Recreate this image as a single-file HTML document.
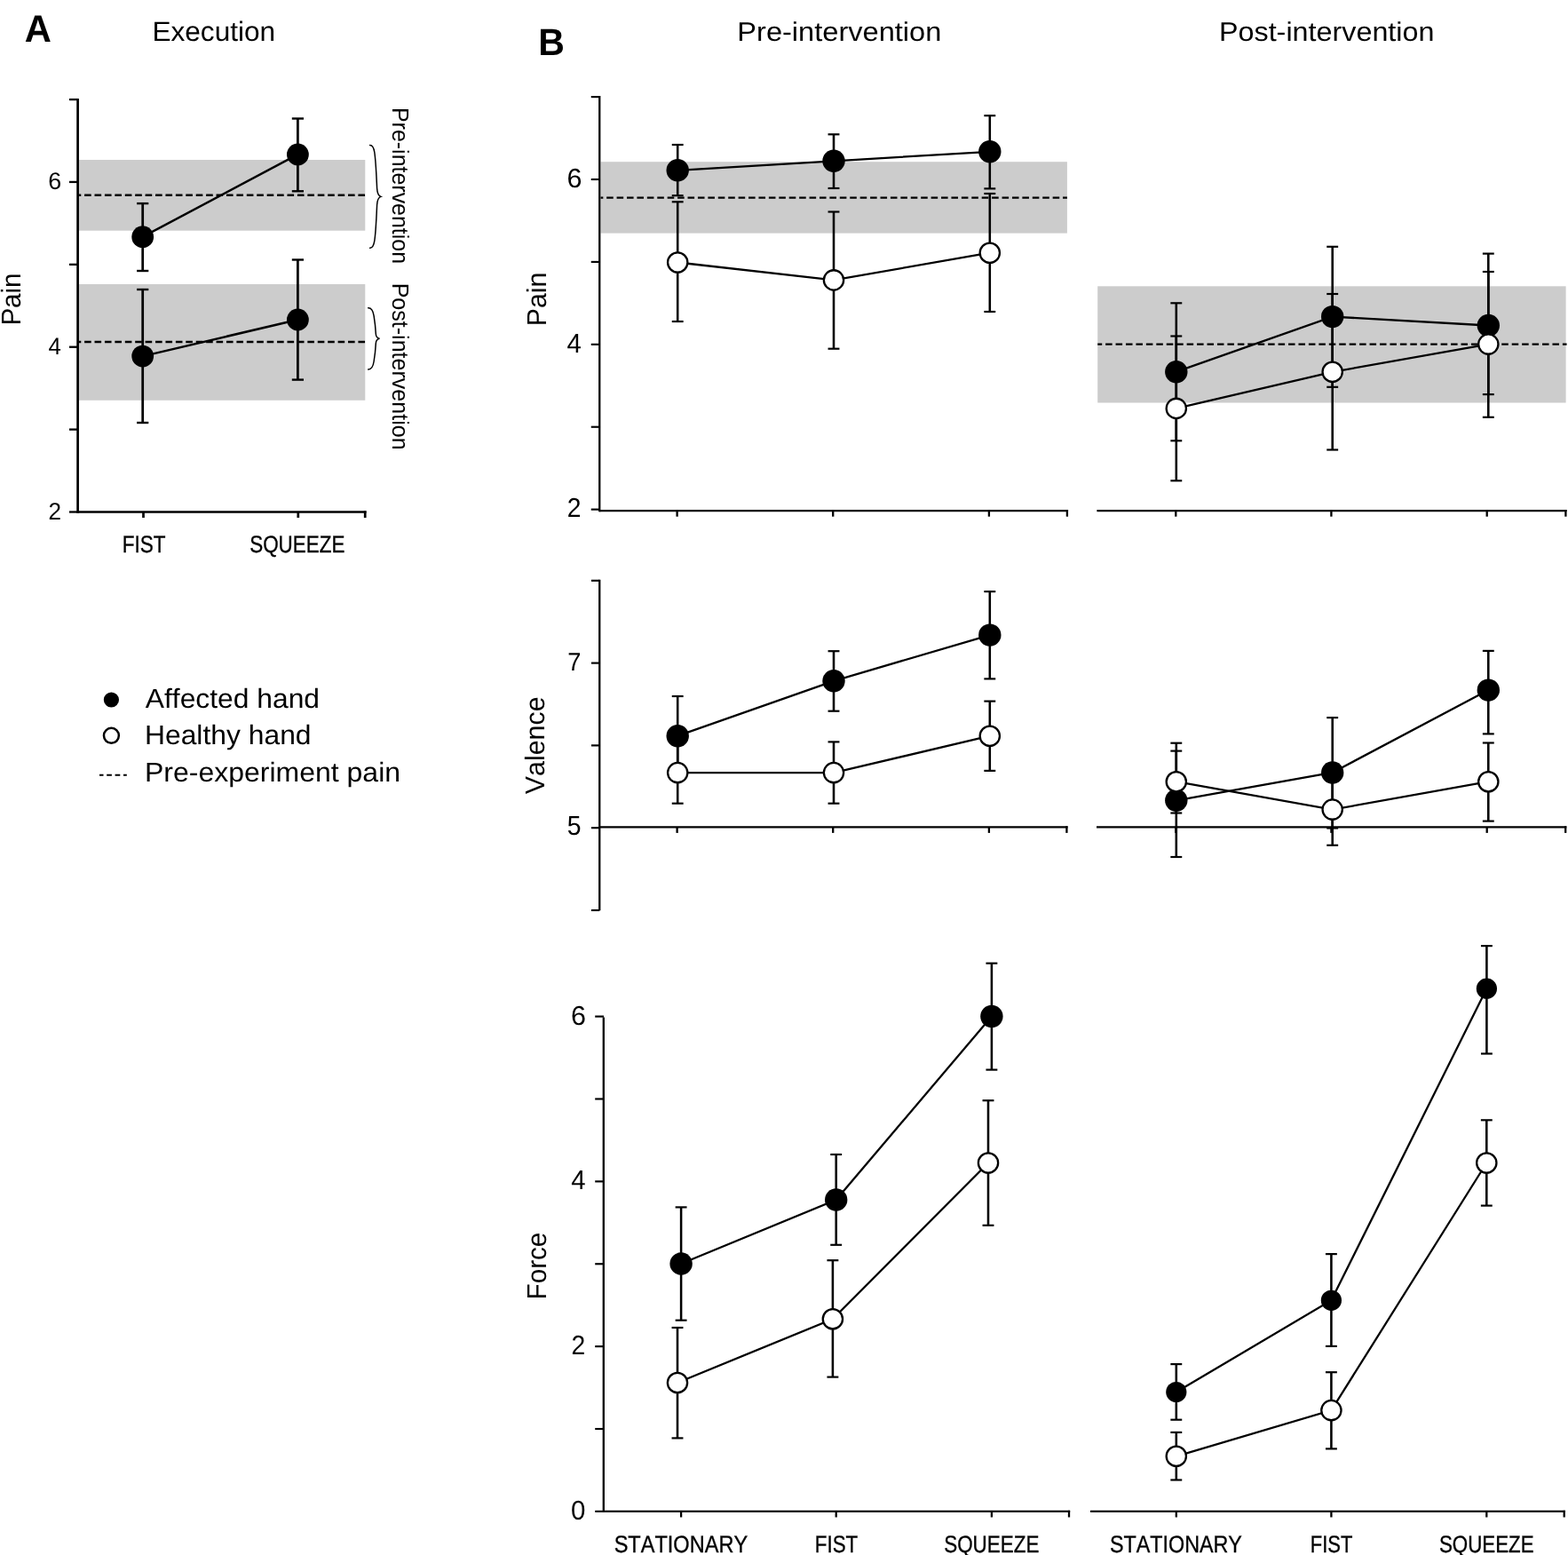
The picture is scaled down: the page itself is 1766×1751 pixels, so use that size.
<!DOCTYPE html>
<html lang="en">
<head>
<meta charset="utf-8">
<title>Figure: Pain, Valence and Force ratings before and after intervention</title>
<style>
html,body{margin:0;padding:0;background:#fff;}
body{width:1766px;height:1751px;overflow:hidden;}
svg{display:block;font-family:'Liberation Sans', sans-serif;font-kerning:none;text-rendering:geometricPrecision;fill:#000;stroke:#000;}
svg text{stroke:none;}
</style>
</head>
<body>
<svg width="1766" height="1751" viewBox="0 0 1766 1751">
<rect x="0" y="0" width="1766" height="1751" fill="#fff" stroke="none"/>
<rect x="88.2" y="180" width="323.1" height="79.7" fill="#cccccc" stroke="none"/>
<rect x="88.2" y="320" width="323.1" height="130.8" fill="#cccccc" stroke="none"/>
<line x1="88.2" y1="219.8" x2="411.3" y2="219.8" stroke-width="2.5" stroke-dasharray="7.6 3.82" stroke-dashoffset="4.52"/>
<line x1="88.2" y1="385" x2="411.3" y2="385" stroke-width="2.5" stroke-dasharray="7.6 3.82" stroke-dashoffset="4.52"/>
<line x1="87.6" y1="110.9" x2="87.6" y2="577.65" stroke-width="2.7"/>
<line x1="78" y1="112.05" x2="87.6" y2="112.05" stroke-width="2.3"/>
<line x1="78" y1="204.94" x2="87.6" y2="204.94" stroke-width="2.3"/>
<line x1="78" y1="297.83" x2="87.6" y2="297.83" stroke-width="2.3"/>
<line x1="78" y1="390.72" x2="87.6" y2="390.72" stroke-width="2.3"/>
<line x1="78" y1="483.61" x2="87.6" y2="483.61" stroke-width="2.3"/>
<line x1="78" y1="576.5" x2="87.6" y2="576.5" stroke-width="2.3"/>
<line x1="87.6" y1="576.5" x2="412.55" y2="576.5" stroke-width="2.3"/>
<line x1="411.2" y1="575.35" x2="411.2" y2="583" stroke-width="2.7"/>
<line x1="161.5" y1="576.5" x2="161.5" y2="583" stroke-width="2.7"/>
<line x1="335.8" y1="576.5" x2="335.8" y2="583" stroke-width="2.7"/>
<line x1="160.7" y1="229.1" x2="160.7" y2="305" stroke-width="2.75"/>
<line x1="154.1" y1="229.1" x2="167.3" y2="229.1" stroke-width="2.38"/>
<line x1="154.1" y1="305" x2="167.3" y2="305" stroke-width="2.38"/>
<line x1="335.4" y1="133.5" x2="335.4" y2="215.3" stroke-width="2.75"/>
<line x1="328.8" y1="133.5" x2="342" y2="133.5" stroke-width="2.38"/>
<line x1="328.8" y1="215.3" x2="342" y2="215.3" stroke-width="2.38"/>
<polyline points="160.7,266.7 335.4,173.9" fill="none" stroke-width="2.5"/>
<circle cx="160.7" cy="266.7" r="12.4" fill="#000" stroke="none"/>
<circle cx="335.4" cy="173.9" r="12.4" fill="#000" stroke="none"/>
<line x1="160.7" y1="326" x2="160.7" y2="476" stroke-width="2.75"/>
<line x1="154.1" y1="326" x2="167.3" y2="326" stroke-width="2.38"/>
<line x1="154.1" y1="476" x2="167.3" y2="476" stroke-width="2.38"/>
<line x1="335.4" y1="292.5" x2="335.4" y2="427.6" stroke-width="2.75"/>
<line x1="328.8" y1="292.5" x2="342" y2="292.5" stroke-width="2.38"/>
<line x1="328.8" y1="427.6" x2="342" y2="427.6" stroke-width="2.38"/>
<polyline points="160.7,401.1 335.4,360" fill="none" stroke-width="2.5"/>
<circle cx="160.7" cy="401.1" r="12.4" fill="#000" stroke="none"/>
<circle cx="335.4" cy="360" r="12.4" fill="#000" stroke="none"/>
<path d="M416.6,163.5 C419.5,163.3 421,166.5 421.8,171.5 C423.4,182 424,200 424.6,212 C424.9,217.5 426.3,220.5 428.9,221.4 C426.3,222.3 424.9,225.3 424.6,230.8 C424,243 423.4,261 421.8,271.2 C421,276.2 419.5,279.4 416.6,279.2" fill="none" stroke-width="1.5" stroke-linecap="round"/>
<path d="M414.7,346.7 C418.5,346.5 420.3,350.5 421.1,355.6 C422.3,363 423,370 423.3,376 C423.5,379.3 424.8,380.8 427.5,381.3 C424.8,381.8 423.5,383.3 423.3,386.6 C423,392.6 422.3,399.6 421.1,407 C420.3,412.1 418.5,416.2 414.7,416" fill="none" stroke-width="1.5" stroke-linecap="round"/>
<text x="442.2" y="120.95" font-size="26.2" textLength="176.17" lengthAdjust="spacingAndGlyphs" transform="rotate(90 442.2 120.95)">Pre-intervention</text>
<text x="442.2" y="318.65" font-size="26.2" textLength="187.98" lengthAdjust="spacingAndGlyphs" transform="rotate(90 442.2 318.65)">Post-intervention</text>
<text x="54.34" y="212.94" font-size="27" textLength="14.95" lengthAdjust="spacingAndGlyphs">6</text>
<text x="54.41" y="398.72" font-size="27" textLength="14.35" lengthAdjust="spacingAndGlyphs">4</text>
<text x="54.59" y="584.5" font-size="27" textLength="14.53" lengthAdjust="spacingAndGlyphs">2</text>
<text x="22.8" y="366.62" font-size="30.6" textLength="59.14" lengthAdjust="spacingAndGlyphs" transform="rotate(-90 22.8 366.62)">Pain</text>
<text x="137.65" y="621.9" font-size="27" style="stroke:#000;stroke-width:0.35px" textLength="48.76" lengthAdjust="spacingAndGlyphs">FIST</text>
<text x="281.18" y="621.9" font-size="27" style="stroke:#000;stroke-width:0.35px" textLength="107.28" lengthAdjust="spacingAndGlyphs">SQUEEZE</text>
<text x="27.66" y="46.8" font-size="42.8" font-weight="bold" textLength="30.14" lengthAdjust="spacingAndGlyphs">A</text>
<text x="171.41" y="45.9" font-size="31" textLength="138.74" lengthAdjust="spacingAndGlyphs">Execution</text>
<circle cx="125.4" cy="788" r="8.6" fill="#000" stroke="none"/>
<circle cx="125.4" cy="828.3" r="8.45" fill="#fff" stroke-width="2.5"/>
<line x1="112" y1="872.7" x2="142.8" y2="872.7" stroke-width="2.1" stroke-dasharray="5.7 3.7" stroke-dashoffset="1.2"/>
<text x="163.74" y="796.6" font-size="30.6" textLength="196.31" lengthAdjust="spacingAndGlyphs">Affected hand</text>
<text x="162.99" y="837.8" font-size="30.6" textLength="187.56" lengthAdjust="spacingAndGlyphs">Healthy hand</text>
<text x="162.98" y="880" font-size="30.6" textLength="288.1" lengthAdjust="spacingAndGlyphs">Pre-experiment pain</text>
<text x="606.26" y="62" font-size="42.6" font-weight="bold" textLength="29.6" lengthAdjust="spacingAndGlyphs">B</text>
<text x="830.33" y="46.2" font-size="30.2" textLength="229.99" lengthAdjust="spacingAndGlyphs">Pre-intervention</text>
<text x="1372.95" y="46.2" font-size="30.2" textLength="242.55" lengthAdjust="spacingAndGlyphs">Post-intervention</text>
<rect x="676.5" y="182.2" width="525.4" height="80.4" fill="#cccccc" stroke="none"/>
<rect x="1236.2" y="322.3" width="527.4" height="131.2" fill="#cccccc" stroke="none"/>
<line x1="676.5" y1="222.6" x2="1201.9" y2="222.6" stroke-width="2.35" stroke-dasharray="7.6 3.82" stroke-dashoffset="4.77"/>
<line x1="1236.2" y1="387.6" x2="1764.6" y2="387.6" stroke-width="2.35" stroke-dasharray="7.55 3.89" stroke-dashoffset="2.54"/>
<line x1="675.25" y1="108.02" x2="675.25" y2="576.18" stroke-width="2.3"/>
<line x1="665.75" y1="109.1" x2="675.25" y2="109.1" stroke-width="2.15"/>
<line x1="665.75" y1="202.01" x2="675.25" y2="202.01" stroke-width="2.15"/>
<line x1="665.75" y1="294.92" x2="675.25" y2="294.92" stroke-width="2.15"/>
<line x1="665.75" y1="387.83" x2="675.25" y2="387.83" stroke-width="2.15"/>
<line x1="665.75" y1="480.74" x2="675.25" y2="480.74" stroke-width="2.15"/>
<line x1="665.75" y1="573.65" x2="675.25" y2="573.65" stroke-width="2.15"/>
<line x1="675.25" y1="575.1" x2="1203.05" y2="575.1" stroke-width="2.15"/>
<line x1="1201.9" y1="574.02" x2="1201.9" y2="581.7" stroke-width="2.3"/>
<line x1="762.6" y1="575.1" x2="762.6" y2="581.7" stroke-width="2.3"/>
<line x1="938.2" y1="575.1" x2="938.2" y2="581.7" stroke-width="2.3"/>
<line x1="1113.9" y1="575.1" x2="1113.9" y2="581.7" stroke-width="2.3"/>
<line x1="1235.4" y1="575.1" x2="1764.55" y2="575.1" stroke-width="2.15"/>
<line x1="1763.4" y1="574.02" x2="1763.4" y2="581.7" stroke-width="2.3"/>
<line x1="1324.3" y1="575.1" x2="1324.3" y2="581.7" stroke-width="2.3"/>
<line x1="1499.4" y1="575.1" x2="1499.4" y2="581.7" stroke-width="2.3"/>
<line x1="1674.7" y1="575.1" x2="1674.7" y2="581.7" stroke-width="2.3"/>
<text x="638.45" y="210.81" font-size="30.4" textLength="16.99" lengthAdjust="spacingAndGlyphs">6</text>
<text x="638.53" y="396.63" font-size="30.4" textLength="16.33" lengthAdjust="spacingAndGlyphs">4</text>
<text x="638.78" y="582.45" font-size="30.4" textLength="15.75" lengthAdjust="spacingAndGlyphs">2</text>
<text x="615.5" y="367.29" font-size="30.6" textLength="60.65" lengthAdjust="spacingAndGlyphs" transform="rotate(-90 615.5 367.29)">Pain</text>
<line x1="763.2" y1="163" x2="763.2" y2="220.2" stroke-width="2.55"/>
<line x1="756.75" y1="163" x2="769.65" y2="163" stroke-width="2.18"/>
<line x1="756.75" y1="220.2" x2="769.65" y2="220.2" stroke-width="2.18"/>
<line x1="939" y1="151.3" x2="939" y2="212" stroke-width="2.55"/>
<line x1="932.55" y1="151.3" x2="945.45" y2="151.3" stroke-width="2.18"/>
<line x1="932.55" y1="212" x2="945.45" y2="212" stroke-width="2.18"/>
<line x1="1114.8" y1="130.2" x2="1114.8" y2="212.4" stroke-width="2.55"/>
<line x1="1108.35" y1="130.2" x2="1121.25" y2="130.2" stroke-width="2.18"/>
<line x1="1108.35" y1="212.4" x2="1121.25" y2="212.4" stroke-width="2.18"/>
<polyline points="763.2,191.8 939,181.3 1114.8,170.8" fill="none" stroke-width="2.3"/>
<circle cx="763.2" cy="191.8" r="12.7" fill="#000" stroke="none"/>
<circle cx="939" cy="181.3" r="12.7" fill="#000" stroke="none"/>
<circle cx="1114.8" cy="170.8" r="12.7" fill="#000" stroke="none"/>
<line x1="763.2" y1="227.3" x2="763.2" y2="362" stroke-width="2.55"/>
<line x1="756.75" y1="227.3" x2="769.65" y2="227.3" stroke-width="2.18"/>
<line x1="756.75" y1="362" x2="769.65" y2="362" stroke-width="2.18"/>
<line x1="939" y1="238.5" x2="939" y2="392.7" stroke-width="2.55"/>
<line x1="932.55" y1="238.5" x2="945.45" y2="238.5" stroke-width="2.18"/>
<line x1="932.55" y1="392.7" x2="945.45" y2="392.7" stroke-width="2.18"/>
<line x1="1114.8" y1="218" x2="1114.8" y2="351" stroke-width="2.55"/>
<line x1="1108.35" y1="218" x2="1121.25" y2="218" stroke-width="2.18"/>
<line x1="1108.35" y1="351" x2="1121.25" y2="351" stroke-width="2.18"/>
<polyline points="763.2,295.5 939,315.4 1114.8,284.7" fill="none" stroke-width="2.3"/>
<circle cx="763.2" cy="295.5" r="11.15" fill="#fff" stroke-width="2.3"/>
<circle cx="939" cy="315.4" r="11.15" fill="#fff" stroke-width="2.3"/>
<circle cx="1114.8" cy="284.7" r="11.15" fill="#fff" stroke-width="2.3"/>
<line x1="1324.8" y1="341.3" x2="1324.8" y2="496.3" stroke-width="2.55"/>
<line x1="1318.35" y1="341.3" x2="1331.25" y2="341.3" stroke-width="2.18"/>
<line x1="1318.35" y1="496.3" x2="1331.25" y2="496.3" stroke-width="2.18"/>
<line x1="1500.7" y1="277.8" x2="1500.7" y2="435.8" stroke-width="2.55"/>
<line x1="1494.25" y1="277.8" x2="1507.15" y2="277.8" stroke-width="2.18"/>
<line x1="1494.25" y1="435.8" x2="1507.15" y2="435.8" stroke-width="2.18"/>
<line x1="1676.3" y1="285.6" x2="1676.3" y2="444.1" stroke-width="2.55"/>
<line x1="1669.85" y1="285.6" x2="1682.75" y2="285.6" stroke-width="2.18"/>
<line x1="1669.85" y1="444.1" x2="1682.75" y2="444.1" stroke-width="2.18"/>
<polyline points="1324.8,418.7 1500.7,356.6 1676.3,366.5" fill="none" stroke-width="2.3"/>
<circle cx="1324.8" cy="418.7" r="12.7" fill="#000" stroke="none"/>
<circle cx="1500.7" cy="356.6" r="12.7" fill="#000" stroke="none"/>
<circle cx="1676.3" cy="366.5" r="12.7" fill="#000" stroke="none"/>
<line x1="1324.8" y1="378.5" x2="1324.8" y2="541.3" stroke-width="2.55"/>
<line x1="1318.35" y1="378.5" x2="1331.25" y2="378.5" stroke-width="2.18"/>
<line x1="1318.35" y1="541.3" x2="1331.25" y2="541.3" stroke-width="2.18"/>
<line x1="1500.7" y1="331" x2="1500.7" y2="506.5" stroke-width="2.55"/>
<line x1="1494.25" y1="331" x2="1507.15" y2="331" stroke-width="2.18"/>
<line x1="1494.25" y1="506.5" x2="1507.15" y2="506.5" stroke-width="2.18"/>
<line x1="1676.3" y1="306" x2="1676.3" y2="469.8" stroke-width="2.55"/>
<line x1="1669.85" y1="306" x2="1682.75" y2="306" stroke-width="2.18"/>
<line x1="1669.85" y1="469.8" x2="1682.75" y2="469.8" stroke-width="2.18"/>
<polyline points="1324.8,459.9 1500.7,418.8 1676.3,387.6" fill="none" stroke-width="2.3"/>
<circle cx="1324.8" cy="459.9" r="11.15" fill="#fff" stroke-width="2.3"/>
<circle cx="1500.7" cy="418.8" r="11.15" fill="#fff" stroke-width="2.3"/>
<circle cx="1676.3" cy="387.6" r="11.15" fill="#fff" stroke-width="2.3"/>
<line x1="675.25" y1="652.72" x2="675.25" y2="1025.28" stroke-width="2.3"/>
<line x1="665.95" y1="653.8" x2="675.25" y2="653.8" stroke-width="2.15"/>
<line x1="665.95" y1="746.6" x2="675.25" y2="746.6" stroke-width="2.15"/>
<line x1="665.95" y1="839.4" x2="675.25" y2="839.4" stroke-width="2.15"/>
<line x1="665.95" y1="932.2" x2="675.25" y2="932.2" stroke-width="2.15"/>
<line x1="665.95" y1="1025" x2="675.25" y2="1025" stroke-width="2.15"/>
<line x1="675.25" y1="931.3" x2="1202.55" y2="931.3" stroke-width="2.15"/>
<line x1="1201.4" y1="930.22" x2="1201.4" y2="937.9" stroke-width="2.3"/>
<line x1="762.6" y1="931.3" x2="762.6" y2="937.9" stroke-width="2.3"/>
<line x1="938.2" y1="931.3" x2="938.2" y2="937.9" stroke-width="2.3"/>
<line x1="1113.9" y1="931.3" x2="1113.9" y2="937.9" stroke-width="2.3"/>
<line x1="1235" y1="931.3" x2="1764.35" y2="931.3" stroke-width="2.15"/>
<line x1="1763.2" y1="930.22" x2="1763.2" y2="937.9" stroke-width="2.3"/>
<line x1="1324.3" y1="931.3" x2="1324.3" y2="937.9" stroke-width="2.3"/>
<line x1="1499.4" y1="931.3" x2="1499.4" y2="937.9" stroke-width="2.3"/>
<line x1="1674.7" y1="931.3" x2="1674.7" y2="937.9" stroke-width="2.3"/>
<text x="639.2" y="754.5" font-size="28.58" textLength="15.17" lengthAdjust="spacingAndGlyphs">7</text>
<text x="638.71" y="940.1" font-size="30.4" textLength="15.78" lengthAdjust="spacingAndGlyphs">5</text>
<text x="613.4" y="894.13" font-size="30.6" textLength="109.68" lengthAdjust="spacingAndGlyphs" transform="rotate(-90 613.4 894.13)">Valence</text>
<line x1="763.2" y1="784" x2="763.2" y2="873.4" stroke-width="2.55"/>
<line x1="756.75" y1="784" x2="769.65" y2="784" stroke-width="2.18"/>
<line x1="756.75" y1="873.4" x2="769.65" y2="873.4" stroke-width="2.18"/>
<line x1="939" y1="733.2" x2="939" y2="800.7" stroke-width="2.55"/>
<line x1="932.55" y1="733.2" x2="945.45" y2="733.2" stroke-width="2.18"/>
<line x1="932.55" y1="800.7" x2="945.45" y2="800.7" stroke-width="2.18"/>
<line x1="1114.8" y1="666.1" x2="1114.8" y2="764.4" stroke-width="2.55"/>
<line x1="1108.35" y1="666.1" x2="1121.25" y2="666.1" stroke-width="2.18"/>
<line x1="1108.35" y1="764.4" x2="1121.25" y2="764.4" stroke-width="2.18"/>
<polyline points="763.2,828.7 939,766.8 1114.8,715.1" fill="none" stroke-width="2.3"/>
<circle cx="763.2" cy="828.7" r="12.7" fill="#000" stroke="none"/>
<circle cx="939" cy="766.8" r="12.7" fill="#000" stroke="none"/>
<circle cx="1114.8" cy="715.1" r="12.7" fill="#000" stroke="none"/>
<line x1="763.2" y1="835.5" x2="763.2" y2="904.7" stroke-width="2.55"/>
<line x1="756.75" y1="835.5" x2="769.65" y2="835.5" stroke-width="2.18"/>
<line x1="756.75" y1="904.7" x2="769.65" y2="904.7" stroke-width="2.18"/>
<line x1="939" y1="835.4" x2="939" y2="904.7" stroke-width="2.55"/>
<line x1="932.55" y1="835.4" x2="945.45" y2="835.4" stroke-width="2.18"/>
<line x1="932.55" y1="904.7" x2="945.45" y2="904.7" stroke-width="2.18"/>
<line x1="1114.8" y1="789.6" x2="1114.8" y2="867.9" stroke-width="2.55"/>
<line x1="1108.35" y1="789.6" x2="1121.25" y2="789.6" stroke-width="2.18"/>
<line x1="1108.35" y1="867.9" x2="1121.25" y2="867.9" stroke-width="2.18"/>
<polyline points="763.2,870.1 939,870.1 1114.8,828.7" fill="none" stroke-width="2.3"/>
<circle cx="763.2" cy="870.1" r="11.15" fill="#fff" stroke-width="2.3"/>
<circle cx="939" cy="870.1" r="11.15" fill="#fff" stroke-width="2.3"/>
<circle cx="1114.8" cy="828.7" r="11.15" fill="#fff" stroke-width="2.3"/>
<line x1="1324.8" y1="836.7" x2="1324.8" y2="965" stroke-width="2.55"/>
<line x1="1318.35" y1="836.7" x2="1331.25" y2="836.7" stroke-width="2.18"/>
<line x1="1318.35" y1="965" x2="1331.25" y2="965" stroke-width="2.18"/>
<line x1="1500.7" y1="808.1" x2="1500.7" y2="932.5" stroke-width="2.55"/>
<line x1="1494.25" y1="808.1" x2="1507.15" y2="808.1" stroke-width="2.18"/>
<line x1="1494.25" y1="932.5" x2="1507.15" y2="932.5" stroke-width="2.18"/>
<line x1="1676.3" y1="732.9" x2="1676.3" y2="826.4" stroke-width="2.55"/>
<line x1="1669.85" y1="732.9" x2="1682.75" y2="732.9" stroke-width="2.18"/>
<line x1="1669.85" y1="826.4" x2="1682.75" y2="826.4" stroke-width="2.18"/>
<polyline points="1324.8,901.3 1500.7,870 1676.3,777.1" fill="none" stroke-width="2.3"/>
<circle cx="1324.8" cy="901.3" r="12.7" fill="#000" stroke="none"/>
<circle cx="1500.7" cy="870" r="12.7" fill="#000" stroke="none"/>
<circle cx="1676.3" cy="777.1" r="12.7" fill="#000" stroke="none"/>
<line x1="1324.8" y1="845.6" x2="1324.8" y2="915.5" stroke-width="2.55"/>
<line x1="1318.35" y1="845.6" x2="1331.25" y2="845.6" stroke-width="2.18"/>
<line x1="1318.35" y1="915.5" x2="1331.25" y2="915.5" stroke-width="2.18"/>
<line x1="1500.7" y1="871.4" x2="1500.7" y2="951.8" stroke-width="2.55"/>
<line x1="1494.25" y1="871.4" x2="1507.15" y2="871.4" stroke-width="2.18"/>
<line x1="1494.25" y1="951.8" x2="1507.15" y2="951.8" stroke-width="2.18"/>
<line x1="1676.3" y1="836.5" x2="1676.3" y2="924.6" stroke-width="2.55"/>
<line x1="1669.85" y1="836.5" x2="1682.75" y2="836.5" stroke-width="2.18"/>
<line x1="1669.85" y1="924.6" x2="1682.75" y2="924.6" stroke-width="2.18"/>
<polyline points="1324.8,880.2 1500.7,911.6 1676.3,880.2" fill="none" stroke-width="2.3"/>
<circle cx="1324.8" cy="880.2" r="11.15" fill="#fff" stroke-width="2.3"/>
<circle cx="1500.7" cy="911.6" r="11.15" fill="#fff" stroke-width="2.3"/>
<circle cx="1676.3" cy="880.2" r="11.15" fill="#fff" stroke-width="2.3"/>
<line x1="670.2" y1="1144.6" x2="680" y2="1144.6" stroke-width="2.15"/>
<line x1="679.8" y1="1145.6" x2="679.8" y2="1702.98" stroke-width="2.3"/>
<line x1="670.2" y1="1237.48" x2="679.8" y2="1237.48" stroke-width="2.15"/>
<line x1="670.2" y1="1330.37" x2="679.8" y2="1330.37" stroke-width="2.15"/>
<line x1="670.2" y1="1423.25" x2="679.8" y2="1423.25" stroke-width="2.15"/>
<line x1="670.2" y1="1516.13" x2="679.8" y2="1516.13" stroke-width="2.15"/>
<line x1="670.2" y1="1609.02" x2="679.8" y2="1609.02" stroke-width="2.15"/>
<line x1="670.2" y1="1701.9" x2="679.8" y2="1701.9" stroke-width="2.15"/>
<line x1="679.8" y1="1701.9" x2="1205.15" y2="1701.9" stroke-width="2.15"/>
<line x1="1204" y1="1700.83" x2="1204" y2="1708.5" stroke-width="2.3"/>
<line x1="767.1" y1="1701.9" x2="767.1" y2="1708.5" stroke-width="2.3"/>
<line x1="941.7" y1="1701.9" x2="941.7" y2="1708.5" stroke-width="2.3"/>
<line x1="1116.9" y1="1701.9" x2="1116.9" y2="1708.5" stroke-width="2.3"/>
<line x1="1228" y1="1701.9" x2="1762.85" y2="1701.9" stroke-width="2.15"/>
<line x1="1761.7" y1="1700.83" x2="1761.7" y2="1708.5" stroke-width="2.3"/>
<line x1="1324.8" y1="1701.9" x2="1324.8" y2="1708.5" stroke-width="2.3"/>
<line x1="1499.4" y1="1701.9" x2="1499.4" y2="1708.5" stroke-width="2.3"/>
<line x1="1674.3" y1="1701.9" x2="1674.3" y2="1708.5" stroke-width="2.3"/>
<text x="643.05" y="1153.6" font-size="30.4" textLength="16.99" lengthAdjust="spacingAndGlyphs">6</text>
<text x="643.13" y="1339.37" font-size="30.4" textLength="16.33" lengthAdjust="spacingAndGlyphs">4</text>
<text x="643.38" y="1525.13" font-size="30.4" textLength="15.75" lengthAdjust="spacingAndGlyphs">2</text>
<text x="643.05" y="1710.9" font-size="30.4" textLength="16.4" lengthAdjust="spacingAndGlyphs">0</text>
<text x="615.5" y="1463.43" font-size="30.6" textLength="75.75" lengthAdjust="spacingAndGlyphs" transform="rotate(-90 615.5 1463.43)">Force</text>
<line x1="767.1" y1="1359.4" x2="767.1" y2="1486.7" stroke-width="2.55"/>
<line x1="760.65" y1="1359.4" x2="773.55" y2="1359.4" stroke-width="2.18"/>
<line x1="760.65" y1="1486.7" x2="773.55" y2="1486.7" stroke-width="2.18"/>
<line x1="941.7" y1="1300" x2="941.7" y2="1401.8" stroke-width="2.55"/>
<line x1="935.25" y1="1300" x2="948.15" y2="1300" stroke-width="2.18"/>
<line x1="935.25" y1="1401.8" x2="948.15" y2="1401.8" stroke-width="2.18"/>
<line x1="1116.9" y1="1084.7" x2="1116.9" y2="1204.6" stroke-width="2.55"/>
<line x1="1110.45" y1="1084.7" x2="1123.35" y2="1084.7" stroke-width="2.18"/>
<line x1="1110.45" y1="1204.6" x2="1123.35" y2="1204.6" stroke-width="2.18"/>
<polyline points="767.1,1423 941.7,1351 1116.9,1144.5" fill="none" stroke-width="2.3"/>
<circle cx="767.1" cy="1423" r="12.7" fill="#000" stroke="none"/>
<circle cx="941.7" cy="1351" r="12.7" fill="#000" stroke="none"/>
<circle cx="1116.9" cy="1144.5" r="12.7" fill="#000" stroke="none"/>
<line x1="763" y1="1495" x2="763" y2="1619.4" stroke-width="2.55"/>
<line x1="756.55" y1="1495" x2="769.45" y2="1495" stroke-width="2.18"/>
<line x1="756.55" y1="1619.4" x2="769.45" y2="1619.4" stroke-width="2.18"/>
<line x1="937.9" y1="1419.2" x2="937.9" y2="1550.6" stroke-width="2.55"/>
<line x1="931.45" y1="1419.2" x2="944.35" y2="1419.2" stroke-width="2.18"/>
<line x1="931.45" y1="1550.6" x2="944.35" y2="1550.6" stroke-width="2.18"/>
<line x1="1113" y1="1239.2" x2="1113" y2="1379.8" stroke-width="2.55"/>
<line x1="1106.55" y1="1239.2" x2="1119.45" y2="1239.2" stroke-width="2.18"/>
<line x1="1106.55" y1="1379.8" x2="1119.45" y2="1379.8" stroke-width="2.18"/>
<polyline points="763,1557 937.9,1485.2 1113,1309.5" fill="none" stroke-width="2.3"/>
<circle cx="763" cy="1557" r="11.15" fill="#fff" stroke-width="2.3"/>
<circle cx="937.9" cy="1485.2" r="11.15" fill="#fff" stroke-width="2.3"/>
<circle cx="1113" cy="1309.5" r="11.15" fill="#fff" stroke-width="2.3"/>
<line x1="1324.8" y1="1536.1" x2="1324.8" y2="1598.7" stroke-width="2.55"/>
<line x1="1318.35" y1="1536.1" x2="1331.25" y2="1536.1" stroke-width="2.18"/>
<line x1="1318.35" y1="1598.7" x2="1331.25" y2="1598.7" stroke-width="2.18"/>
<line x1="1499.4" y1="1412.1" x2="1499.4" y2="1515.9" stroke-width="2.55"/>
<line x1="1492.95" y1="1412.1" x2="1505.85" y2="1412.1" stroke-width="2.18"/>
<line x1="1492.95" y1="1515.9" x2="1505.85" y2="1515.9" stroke-width="2.18"/>
<line x1="1674.4" y1="1065.1" x2="1674.4" y2="1186.5" stroke-width="2.55"/>
<line x1="1667.95" y1="1065.1" x2="1680.85" y2="1065.1" stroke-width="2.18"/>
<line x1="1667.95" y1="1186.5" x2="1680.85" y2="1186.5" stroke-width="2.18"/>
<polyline points="1324.8,1567.5 1499.4,1464.3 1674.4,1113.2" fill="none" stroke-width="2.3"/>
<circle cx="1324.8" cy="1567.5" r="11.6" fill="#000" stroke="none"/>
<circle cx="1499.4" cy="1464.3" r="11.6" fill="#000" stroke="none"/>
<circle cx="1674.4" cy="1113.2" r="11.6" fill="#000" stroke="none"/>
<line x1="1324.8" y1="1612.9" x2="1324.8" y2="1666.5" stroke-width="2.55"/>
<line x1="1318.35" y1="1612.9" x2="1331.25" y2="1612.9" stroke-width="2.18"/>
<line x1="1318.35" y1="1666.5" x2="1331.25" y2="1666.5" stroke-width="2.18"/>
<line x1="1499.4" y1="1545.2" x2="1499.4" y2="1631.4" stroke-width="2.55"/>
<line x1="1492.95" y1="1545.2" x2="1505.85" y2="1545.2" stroke-width="2.18"/>
<line x1="1492.95" y1="1631.4" x2="1505.85" y2="1631.4" stroke-width="2.18"/>
<line x1="1674.3" y1="1261.3" x2="1674.3" y2="1357.6" stroke-width="2.55"/>
<line x1="1667.85" y1="1261.3" x2="1680.75" y2="1261.3" stroke-width="2.18"/>
<line x1="1667.85" y1="1357.6" x2="1680.75" y2="1357.6" stroke-width="2.18"/>
<polyline points="1324.8,1639.8 1499.4,1588.1 1674.3,1309.5" fill="none" stroke-width="2.3"/>
<circle cx="1324.8" cy="1639.8" r="11.15" fill="#fff" stroke-width="2.3"/>
<circle cx="1499.4" cy="1588.1" r="11.15" fill="#fff" stroke-width="2.3"/>
<circle cx="1674.3" cy="1309.5" r="11.15" fill="#fff" stroke-width="2.3"/>
<text x="691.63" y="1748" font-size="27" style="stroke:#000;stroke-width:0.35px" textLength="150.49" lengthAdjust="spacingAndGlyphs">STATIONARY</text>
<text x="917.87" y="1748" font-size="27" style="stroke:#000;stroke-width:0.35px" textLength="48.34" lengthAdjust="spacingAndGlyphs">FIST</text>
<text x="1063.18" y="1748" font-size="27" style="stroke:#000;stroke-width:0.35px" textLength="107.28" lengthAdjust="spacingAndGlyphs">SQUEEZE</text>
<text x="1250.04" y="1748" font-size="27" style="stroke:#000;stroke-width:0.35px" textLength="148.87" lengthAdjust="spacingAndGlyphs">STATIONARY</text>
<text x="1475.8" y="1748" font-size="27" style="stroke:#000;stroke-width:0.35px" textLength="47.61" lengthAdjust="spacingAndGlyphs">FIST</text>
<text x="1620.89" y="1748" font-size="27" style="stroke:#000;stroke-width:0.35px" textLength="106.77" lengthAdjust="spacingAndGlyphs">SQUEEZE</text>
</svg>
</body>
</html>
